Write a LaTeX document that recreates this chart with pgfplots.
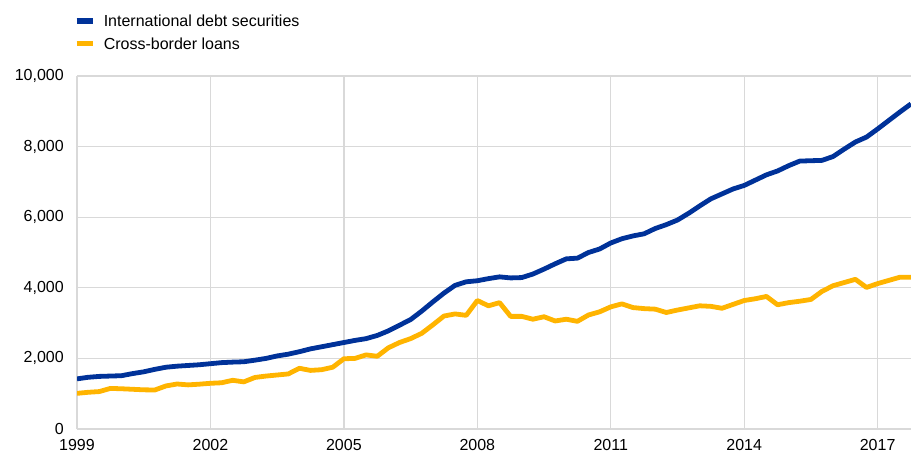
\documentclass[border=0pt]{standalone}
\usepackage{fontspec}
\setmainfont{Liberation Sans}
\usepackage{pgfplots}
\usepackage{pgfplotstable}
\pgfplotsset{compat=1.18}
\definecolor{ecbblue}{HTML}{003299}
\definecolor{ecbyellow}{HTML}{FFB400}
\definecolor{gridgray}{HTML}{D9D9D9}
\pgfplotstableread{
year ids loans
1999.00 1420 1010
1999.25 1465 1040
1999.50 1490 1060
1999.75 1500 1150
2000.00 1510 1140
2000.25 1570 1125
2000.50 1620 1110
2000.75 1690 1105
2001.00 1750 1220
2001.25 1780 1275
2001.50 1800 1250
2001.75 1820 1270
2002.00 1850 1295
2002.25 1880 1310
2002.50 1895 1380
2002.75 1905 1335
2003.00 1950 1460
2003.25 2000 1500
2003.50 2070 1530
2003.75 2120 1560
2004.00 2190 1720
2004.25 2270 1660
2004.50 2330 1680
2004.75 2390 1750
2005.00 2450 1990
2005.25 2510 2000
2005.50 2560 2100
2005.75 2650 2060
2006.00 2780 2300
2006.25 2940 2450
2006.50 3100 2560
2006.75 3340 2710
2007.00 3600 2950
2007.25 3850 3200
2007.50 4070 3260
2007.75 4170 3220
2008.00 4200 3640
2008.25 4260 3490
2008.50 4310 3580
2008.75 4280 3190
2009.00 4290 3190
2009.25 4390 3110
2009.50 4530 3180
2009.75 4680 3060
2010.00 4820 3110
2010.25 4840 3050
2010.50 5000 3230
2010.75 5100 3320
2011.00 5270 3460
2011.25 5390 3545
2011.50 5470 3440
2011.75 5530 3410
2012.00 5680 3395
2012.25 5790 3300
2012.50 5920 3370
2012.75 6110 3430
2013.00 6320 3490
2013.25 6520 3475
2013.50 6660 3420
2013.75 6800 3530
2014.00 6900 3640
2014.25 7050 3690
2014.50 7200 3755
2014.75 7310 3520
2015.00 7460 3580
2015.25 7590 3620
2015.50 7600 3670
2015.75 7610 3900
2016.00 7720 4060
2016.25 7930 4150
2016.50 8130 4240
2016.75 8270 4010
2017.00 8500 4120
2017.25 8740 4210
2017.50 8980 4300
2017.75 9210 4300
}\datatable
\begin{document}
\begin{tikzpicture}[x=1pt,y=1pt,font=\fontsize{12}{14}\selectfont]
\path[use as bounding box] (0,0) rectangle (683.25,341.25);
\begin{axis}[
  at={(57.75pt,19.5pt)}, anchor=south west,
  scale only axis, width=625.5pt, height=264.75pt,
  xmin=1999, xmax=2017.75, ymin=0, ymax=10000,
  xtick={1999,2002,2005,2008,2011,2014,2017},
  ytick={0,2000,4000,6000,8000,10000},
  scaled y ticks=false,
  axis line style={draw=none},
  grid=major,
  grid style={gridgray, line width=1pt},
  major tick length=0pt,
  /pgf/number format/assume math mode=true,
  /pgf/number format/1000 sep={,},
  yticklabel style={anchor=east, inner sep=0pt, xshift=-9.75pt, font=\fontsize{12}{14}\selectfont},
  xticklabel style={anchor=north, inner sep=0pt, yshift=-7.5pt, font=\fontsize{12}{14}\selectfont, /pgf/number format/1000 sep={}},
  legend style={at={(0,1)}, anchor=north west, yshift=45.75pt, xshift=-2.5pt, draw=none, fill=none,
    inner sep=0pt, row sep=8.25pt, font=\fontsize{12}{14}\selectfont,
    nodes={inner sep=0pt, text depth=0pt},
    /tikz/every odd column/.append style={column sep=6pt}},
  legend cell align=left,
  legend image code/.code={
    \draw[#1, line width=4pt, line cap=butt] (0pt,0pt) -- (12.4pt,0pt);
  },
]
\addplot[ecbblue, line width=3.6pt, line join=round] table[x=year, y=ids] {\datatable};
\addlegendentry{International debt securities}
\addplot[ecbyellow, line width=3.6pt, line join=round] table[x=year, y=loans] {\datatable};
\addlegendentry{Cross-border loans}
\end{axis}
\end{tikzpicture}
\end{document}
